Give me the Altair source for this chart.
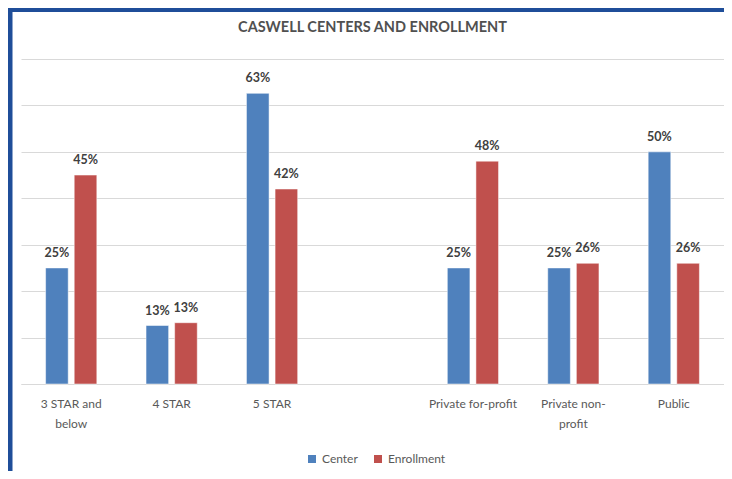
import altair as alt
import pandas as pd

title_text = "CASWELL CENTERS AND ENROLLMENT"
categories = ["3 STAR and below", "4 STAR", "5 STAR", " ",
              "Private for-profit", "Private non-profit", "Public"]
center = [0.25, 0.126, 0.626, None, 0.25, 0.25, 0.50]
enrollment = [0.45, 0.132, 0.42, None, 0.48, 0.26, 0.26]
series = ["Center", "Enrollment"]
colors = ["#4F81BD", "#C0504D"]

rows = []
for c, a, b in zip(categories, center, enrollment):
    if a is not None:
        rows.append({"category": c, "series": "Center", "value": a})
    if b is not None:
        rows.append({"category": c, "series": "Enrollment", "value": b})
df = pd.DataFrame(rows)

FONT = "Lato"
W, H = 703, 325

label_expr = ("datum.label == '3 STAR and below' ? ['3 STAR and', 'below'] : "
              "datum.label == 'Private non-profit' ? ['Private non-', 'profit'] : datum.label")

base = alt.Chart(df).encode(
    x=alt.X("category:N", sort=categories,
            scale=alt.Scale(domain=categories, paddingInner=0.49, paddingOuter=0.245),
            axis=alt.Axis(title=None, labelAngle=0, ticks=False, domainColor="#d9d9d9",
                          labelFont=FONT, labelFontSize=12, labelColor="#595959",
                          labelPadding=14, labelLineHeight=20, labelExpr=label_expr,
                          grid=False)),
    xOffset=alt.XOffset("series:N", sort=series,
                        scale=alt.Scale(domain=series, paddingInner=0.21, paddingOuter=0)),
    y=alt.Y("value:Q", scale=alt.Scale(domain=[0, 0.7], nice=False),
            axis=alt.Axis(title=None, labels=False, ticks=False, domain=False,
                          values=[0, 0.1, 0.2, 0.3, 0.4, 0.5, 0.6, 0.7],
                          gridColor="#d9d9d9", gridWidth=1)),
)

bars = base.mark_bar(stroke="white", strokeWidth=0.5).encode(
    color=alt.Color("series:N", sort=series,
                    scale=alt.Scale(domain=series, range=colors),
                    legend=alt.Legend(orient="none", legendX=285, legendY=394,
                                      direction="horizontal", title=None,
                                      symbolType="square", symbolSize=64,
                                      symbolStrokeWidth=0,
                                      labelFont=FONT, labelFontSize=12,
                                      labelColor="#595959", labelOffset=4,
                                      columnPadding=14))
)

texts = base.mark_text(baseline="bottom", dy=-8, font=FONT, fontSize=12.5,
                       fontWeight="bold", color="#404040").encode(
    text=alt.Text("value:Q", format=".0%")
)

frame_data = alt.Data(values=[{"t": title_text}])
left_frame = alt.Chart(frame_data).mark_rule(color="#1F4E99", strokeWidth=5).encode(
    x=alt.value(-11), y=alt.value(-51), y2=alt.value(412)
)
top_frame = alt.Chart(frame_data).mark_rule(color="#1F4E99", strokeWidth=4).encode(
    x=alt.value(-13), x2=alt.value(703), y=alt.value(-49)
)
title = alt.Chart(frame_data).mark_text(font=FONT, fontSize=14.5, fontWeight="bold",
                                        color="#505050", baseline="middle",
                                        align="center").encode(
    x=alt.value(351.5), y=alt.value(-31), text="t:N"
)

chart = alt.layer(bars, texts, left_frame, top_frame, title).properties(
    width=W, height=H,
    autosize=alt.AutoSizeParams(type="none"),
    padding={"left": 13, "top": 51, "right": 0, "bottom": 87},
).configure_view(stroke=None)

chart.save("out.html", embed_options={"renderer": "svg", "actions": False})
